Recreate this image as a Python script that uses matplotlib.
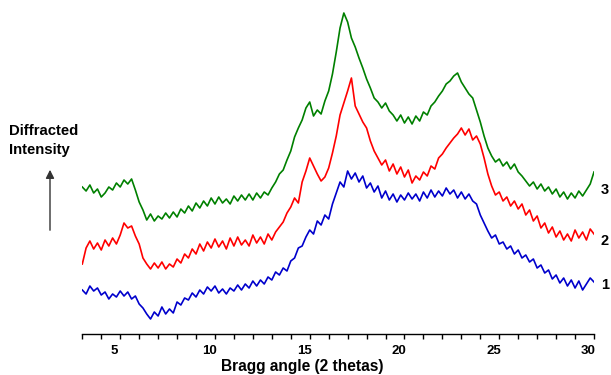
import numpy as np
import matplotlib
matplotlib.use("Agg")
import matplotlib.pyplot as plt

plt.rcParams['font.family'] = ['Liberation Sans', 'DejaVu Sans']

# 2-theta grid, 0.2 degree steps
angle = np.round(np.arange(3.3, 30.31, 0.2), 1)

# sample 1 (blue)
sample1 = [44, 40, 48,
           43, 46, 39, 42, 35, 40, 37, 43, 38, 42,
           35, 38, 30, 26, 20, 15, 22, 18, 27, 20,
           25, 21, 32, 29, 36, 34, 41, 37, 44, 40,
           47, 43, 48, 41, 45, 40, 46, 43, 49, 44,
           50, 46, 53, 48, 54, 50, 57, 54, 62, 59,
           66, 63, 73, 76, 86, 88, 97, 104, 100, 113,
           109, 119, 115, 130, 141, 152, 147, 163, 155, 161,
           152, 158, 146, 151, 142, 148, 136, 143, 134, 140,
           132, 139, 134, 141, 135, 140, 133, 142, 136, 144,
           137, 143, 138, 146, 140, 144, 136, 142, 135, 140,
           133, 130, 119, 111, 103, 96, 99, 90, 92, 85,
           88, 80, 84, 76, 79, 72, 75, 66, 69, 61,
           64, 55, 59, 51, 56, 48, 54, 46, 53, 44,
           50, 56, 52]

# sample 2 (red)
sample2 = [70, 86, 93,
           85, 91, 84, 94, 88, 96, 90, 99, 111, 106,
           108, 98, 90, 76, 70, 65, 71, 66, 72, 65,
           70, 67, 75, 71, 80, 76, 85, 80, 90, 83,
           92, 86, 95, 87, 93, 85, 96, 88, 97, 89,
           94, 88, 99, 91, 97, 90, 100, 94, 102, 107,
           112, 121, 127, 136, 131, 152, 163, 176, 168, 160,
           153, 157, 166, 181, 198, 219, 231, 243, 256, 228,
           220, 212, 206, 193, 183, 176, 169, 174, 163, 170,
           160, 167, 157, 164, 151, 158, 154, 162, 158, 168,
           165, 176, 180, 186, 191, 196, 200, 206, 199, 205,
           194, 198, 190, 176, 160, 148, 139, 142, 133, 137,
           128, 133, 125, 130, 119, 124, 113, 118, 106, 111,
           101, 107, 97, 103, 94, 100, 93, 104, 96, 102,
           94, 105, 100]

# sample 3 (green)
sample3 = [147, 143, 149,
           141, 145, 137, 141, 147, 144, 151, 147, 154, 150,
           155, 144, 132, 124, 114, 120, 113, 118, 115, 121,
           116, 122, 117, 125, 121, 128, 123, 131, 126, 133,
           128, 136, 130, 137, 131, 135, 130, 138, 133, 139,
           134, 140, 134, 141, 136, 142, 139, 146, 152, 160,
           164, 174, 183, 197, 206, 214, 226, 232, 218, 224,
           220, 233, 243, 260, 282, 306, 321, 312, 296, 287,
           276, 266, 255, 246, 236, 232, 226, 231, 223, 219,
           213, 219, 211, 217, 210, 218, 213, 222, 219, 228,
           232, 238, 243, 250, 253, 258, 261, 252, 246, 240,
           236, 224, 212, 198, 186, 178, 172, 175, 168, 172,
           165, 170, 162, 158, 153, 148, 152, 145, 150, 143,
           147, 140, 145, 137, 142, 135, 141, 136, 143, 138,
           144, 150, 162]

W, H = 611, 375
fig = plt.figure(figsize=(W / 100, H / 100), dpi=100)
ax = fig.add_axes([82.3 / W, 1 - 334 / H, (594 - 82.3) / W, 334 / H])

ax.plot(angle, sample1, color='#0000cc', lw=1.2)
ax.plot(angle, sample2, color='#ff0000', lw=1.2)
ax.plot(angle, sample3, color='#008000', lw=1.2)

ax.set_xlim(3.3, 30.3)
ax.set_ylim(0, 334)
for s in ['top', 'left', 'right']:
    ax.spines[s].set_visible(False)
ax.spines['bottom'].set_linewidth(1.0)
ax.set_yticks([])

ax.set_xticks([5, 10, 15, 20, 25, 30])
ax.set_xticklabels(['5', '10', '15', '20', '25', '30'], fontsize=9.5, fontweight='bold')
ax.tick_params(axis='x', which='major', length=0, pad=8)
ax.set_xticks(np.arange(3.3, 30.31, 1.0), minor=True)
ax.tick_params(axis='x', which='minor', length=3.5, width=1.0, direction='out')

# curve numbers at the right edge
for lab, yy in [('1', 49), ('2', 93), ('3', 144)]:
    ax.text(30.66, yy, lab, fontsize=10.5, fontweight='bold', va='center', ha='left', clip_on=False)

fig.text(302.5 / W, 1 - 367 / H, 'Bragg angle (2 thetas)', fontsize=11.2, fontweight='bold',
         ha='center', va='center')
fig.text(9 / W, 1 - 124 / H, 'Diffracted', fontsize=10.7, fontweight='bold', va='top')
fig.text(9 / W, 1 - 143 / H, 'Intensity', fontsize=10.7, fontweight='bold', va='top')
fig.patches.append(matplotlib.patches.FancyArrowPatch(
    (50 / W, 1 - 233 / H), (50 / W, 1 - 167 / H), transform=fig.transFigure,
    arrowstyle='-|>,head_length=5,head_width=2.5', color='#333333', lw=1.0))

fig.savefig('out.png', dpi=100)
